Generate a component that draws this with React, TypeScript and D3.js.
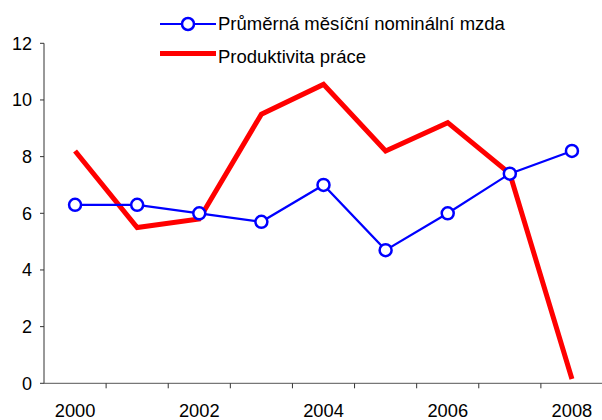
import React from "react";
import * as d3 from "d3";

const years = ["2000", "2001", "2002", "2003", "2004", "2005", "2006", "2007", "2008"];
const wageGrowth = [6.3, 6.3, 6.0, 5.7, 7.0, 4.7, 6.0, 7.4, 8.2];
const productivity = [8.2, 5.5, 5.8, 9.5, 10.55, 8.2, 9.2, 7.4, 0.15];
const yTicks = [0, 2, 4, 6, 8, 10, 12];
const xLabels = ["2000", "2002", "2004", "2006", "2008"];
const seriesNames = ["Průměrná měsíční nominální mzda", "Produktivita práce"];

const W = 602;
const H = 420;
const FONT = "'Liberation Sans', Arial, sans-serif";

export default function App() {
  const x = d3.scaleBand<string>().domain(years).range([44, 603]).paddingInner(0).paddingOuter(0);
  const y = d3.scaleLinear().domain([0, 12]).range([383.3, 43.3]);
  const cx = (yr: string) => (x(yr) as number) + x.bandwidth() / 2;

  const line = d3
    .line<number>()
    .x((_, i) => cx(years[i]))
    .y((d) => y(d));

  const boundaries = years.map((yr) => x(yr) as number).slice(1);

  return (
    <svg
      width={W}
      height={H}
      style={{ position: "absolute", left: 0, top: 0, display: "block", background: "#fff" }}
      fontFamily={FONT}
    >
      {/* y axis */}
      <line x1={44} x2={44} y1={y(12)} y2={y(0)} stroke="#333" strokeWidth={1} />
      {yTicks.map((t) => (
        <g key={t}>
          <line x1={40} x2={44} y1={y(t)} y2={y(t)} stroke="#333" strokeWidth={1} />
          <text x={32} y={y(t)} dy="0.36em" textAnchor="end" fontSize={18} fill="#000">
            {t}
          </text>
        </g>
      ))}
      {/* x axis */}
      <line x1={44} x2={602} y1={y(0)} y2={y(0)} stroke="#555" strokeWidth={1} />
      {boundaries.map((b, i) => (
        <line key={i} x1={b} x2={b} y1={y(0)} y2={y(0) + 5} stroke="#333" strokeWidth={1} />
      ))}
      {xLabels.map((l) => (
        <text key={l} x={cx(l)} y={417} textAnchor="middle" fontSize={18.3} fill="#000">
          {l}
        </text>
      ))}

      {/* productivity line */}
      <path
        d={line(productivity) || ""}
        fill="none"
        stroke="#FF0000"
        strokeWidth={5}
        strokeLinejoin="miter"
        strokeLinecap="butt"
      />
      {/* wage line */}
      <path d={line(wageGrowth) || ""} fill="none" stroke="#0000FF" strokeWidth={2.2} />
      {wageGrowth.map((v, i) => (
        <circle key={i} cx={cx(years[i])} cy={y(v)} r={6} fill="#fff" stroke="#0000FF" strokeWidth={2.5} />
      ))}

      {/* legend */}
      <line x1={160} x2={216} y1={24} y2={24} stroke="#0000FF" strokeWidth={2.2} />
      <circle cx={188} cy={24} r={6} fill="#fff" stroke="#0000FF" strokeWidth={2.5} />
      <text x={218} y={30} fontSize={18.5} fill="#000">
        {seriesNames[0]}
      </text>
      <line x1={160} x2={216} y1={53.5} y2={53.5} stroke="#FF0000" strokeWidth={5} />
      <text x={218} y={63} fontSize={18.5} fill="#000">
        {seriesNames[1]}
      </text>
    </svg>
  );
}
